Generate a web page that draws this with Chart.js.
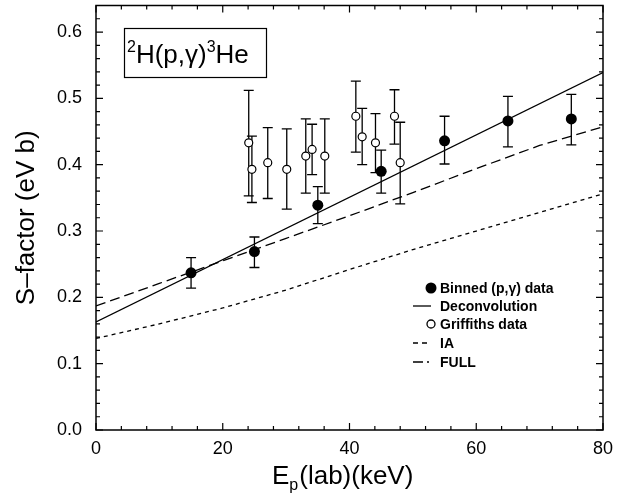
<!DOCTYPE html>
<html>
<head>
<meta charset="utf-8">
<title>2H(p,gamma)3He S-factor</title>
<script src="https://cdn.jsdelivr.net/npm/chart.js@4.4.1/dist/chart.umd.min.js"></script>
<style>
    html, body { margin: 0; padding: 0; background: #fff; }
    #wrap { width: 634px; height: 497px; }
</style>
</head>
<body>
<div id="wrap"><canvas id="sfactorChart" width="634" height="497"></canvas></div>
<script>
// Binned (p,gamma) data
const binnedE = [15, 25, 35, 45, 55, 65, 75];
const binnedS = [0.237, 0.269, 0.339, 0.390, 0.436, 0.466, 0.469];
const binnedHi = [0.260, 0.291, 0.367, 0.422, 0.473, 0.503, 0.506];
const binnedLo = [0.214, 0.245, 0.311, 0.357, 0.401, 0.427, 0.430];

// Griffiths data
const griffE = [24.1, 24.6, 27.1, 30.1, 33.1, 34.1, 36.1, 41.0, 42.0, 44.1, 47.1, 48.0];
const griffS = [0.433, 0.393, 0.403, 0.393, 0.413, 0.423, 0.413, 0.473, 0.442, 0.433, 0.473, 0.403];
const griffHi = [0.512, 0.443, 0.456, 0.454, 0.469, 0.461, 0.469, 0.526, 0.485, 0.477, 0.513, 0.464];
const griffLo = [0.353, 0.343, 0.349, 0.333, 0.357, 0.385, 0.357, 0.419, 0.400, 0.388, 0.431, 0.341];

// Deconvolution fit (straight line)
const deconvE = [0, 80];
const deconvS = [0.163, 0.539];

// Theory curves
const theoryE = [0, 10, 20, 30, 40, 50, 60, 70, 80];
const iaS = [0.138, 0.160, 0.184, 0.211, 0.242, 0.272, 0.300, 0.328, 0.356];
const fullS = [0.187, 0.221, 0.255, 0.289, 0.323, 0.358, 0.394, 0.429, 0.457];

// Axis ticks
const xTickLabels = [0, 20, 40, 60, 80];
const yTickLabels = [0.0, 0.1, 0.2, 0.3, 0.4, 0.5, 0.6];

const FONT = "'Liberation Sans', Arial, Helvetica, sans-serif";
const toPoints = (xs, ys) => xs.map((v, i) => ({ x: v, y: ys[i] }));

// Error bars, drawn under the markers
const errorBarPlugin = {
    id: 'errorBars',
    beforeDatasetsDraw(chart) {
        const { ctx, scales: { x, y } } = chart;
        const sets = [[binnedE, binnedLo, binnedHi], [griffE, griffLo, griffHi]];
        ctx.save();
        ctx.strokeStyle = '#000';
        ctx.lineWidth = 1.3;
        sets.forEach(([es, lo, hi]) => {
            es.forEach((e, i) => {
                const px = x.getPixelForValue(e);
                const top = y.getPixelForValue(hi[i]);
                const bot = y.getPixelForValue(lo[i]);
                ctx.beginPath();
                ctx.moveTo(px, top); ctx.lineTo(px, bot);
                ctx.moveTo(px - 5, top); ctx.lineTo(px + 5, top);
                ctx.moveTo(px - 5, bot); ctx.lineTo(px + 5, bot);
                ctx.stroke();
            });
        });
        ctx.restore();
    }
};

// Frame, inward ticks, label box, legend and x title
const decorPlugin = {
    id: 'decor',
    afterDraw(chart) {
        const { ctx, chartArea: a, scales: { x, y } } = chart;
        ctx.save();
        ctx.strokeStyle = '#000';
        ctx.fillStyle = '#000';
        ctx.lineWidth = 1.5;
        ctx.strokeRect(a.left, a.top, a.right - a.left, a.bottom - a.top);

        // y ticks every 0.02, major every 0.1
        ctx.lineWidth = 1.2;
        ctx.beginPath();
        for (let i = 0; i <= 32; i++) {
            const py = y.getPixelForValue(i * 0.02);
            const len = i % 5 === 0 ? 7 : 4;
            ctx.moveTo(a.left, py); ctx.lineTo(a.left + len, py);
            ctx.moveTo(a.right, py); ctx.lineTo(a.right - len, py);
        }
        // x ticks every 4, major every 20
        for (let i = 0; i <= 20; i++) {
            const px = x.getPixelForValue(i * 4);
            const len = i % 5 === 0 ? 7 : 4;
            ctx.moveTo(px, a.bottom); ctx.lineTo(px, a.bottom - len);
            ctx.moveTo(px, a.top); ctx.lineTo(px, a.top + len);
        }
        ctx.stroke();

        // reaction label box
        ctx.lineWidth = 1.2;
        ctx.strokeRect(124.5, 28.5, 142, 49);
        ctx.textBaseline = 'alphabetic';
        ctx.textAlign = 'left';
        let tx = 127;
        const parts = [['2', 16, -11], ['H(p,\u03b3)', 26, 0], ['3', 16, -11], ['He', 26, 0]];
        parts.forEach(([t, size, dy]) => {
            ctx.font = size + 'px ' + FONT;
            ctx.fillText(t, tx, 63 + dy);
            tx += ctx.measureText(t).width;
        });

        // legend
        const lx = 431, textX = 440;
        const rows = [288, 306, 324, 343, 362];
        const labels = ['Binned (p,\u03b3) data', 'Deconvolution', 'Griffiths data', 'IA', 'FULL'];
        ctx.font = 'bold 14px ' + FONT;
        ctx.textBaseline = 'middle';
        labels.forEach((t, i) => ctx.fillText(t, textX, rows[i] + 1));

        ctx.beginPath();
        ctx.arc(lx, rows[0], 5.5, 0, Math.PI * 2);
        ctx.fill();

        ctx.lineWidth = 1.3;
        ctx.beginPath();
        ctx.moveTo(413, rows[1]); ctx.lineTo(431, rows[1]);
        ctx.stroke();

        ctx.beginPath();
        ctx.arc(lx, rows[2], 4, 0, Math.PI * 2);
        ctx.stroke();

        ctx.setLineDash([5, 4]);
        ctx.beginPath();
        ctx.moveTo(413, rows[3]); ctx.lineTo(431, rows[3]);
        ctx.stroke();

        ctx.setLineDash([10, 4, 2, 4]);
        ctx.beginPath();
        ctx.moveTo(413, rows[4]); ctx.lineTo(431, rows[4]);
        ctx.stroke();
        ctx.setLineDash([]);

        // x title with subscript
        ctx.textBaseline = 'alphabetic';
        let xx = 272;
        const xparts = [['E', 26, 0], ['p', 16, 6], ['(lab)(keV)', 26, 0]];
        xparts.forEach(([t, size, dy]) => {
            ctx.font = size + 'px ' + FONT;
            ctx.fillText(t, xx, 484 + dy);
            xx += ctx.measureText(t).width + (t === 'p' ? 1 : 0);
        });
        ctx.restore();
    }
};

new Chart(document.getElementById('sfactorChart'), {
    type: 'scatter',
    data: {
        datasets: [{
            label: 'IA',
            data: toPoints(theoryE, iaS),
            showLine: true,
            borderColor: '#000',
            borderWidth: 1.3,
            borderDash: [4, 4],
            pointRadius: 0
        }, {
            label: 'FULL',
            data: toPoints(theoryE, fullS),
            showLine: true,
            borderColor: '#000',
            borderWidth: 1.3,
            borderDash: [10, 5],
            pointRadius: 0
        }, {
            label: 'Deconvolution',
            data: toPoints(deconvE, deconvS),
            showLine: true,
            borderColor: '#000',
            borderWidth: 1.3,
            pointRadius: 0
        }, {
            label: 'Griffiths data',
            data: toPoints(griffE, griffS),
            pointRadius: 4,
            pointBorderWidth: 1.2,
            pointBorderColor: '#000',
            pointBackgroundColor: '#fff'
        }, {
            label: 'Binned (p,\u03b3) data',
            data: toPoints(binnedE, binnedS),
            pointRadius: 5.5,
            pointBorderWidth: 0,
            pointBackgroundColor: '#000'
        }]
    },
    options: {
        responsive: false,
        animation: false,
        layout: { padding: { top: 5, right: 31, left: 0, bottom: 0 } },
        plugins: {
            legend: { display: false },
            tooltip: { enabled: false }
        },
        scales: {
            x: {
                type: 'linear',
                min: 0,
                max: 80,
                afterBuildTicks: scale => {
                    scale.ticks = xTickLabels.map(v => ({ value: v }));
                },
                afterFit: scale => {
                    scale.height = 67;
                    scale.paddingLeft = 0;
                    scale.paddingRight = 0;
                },
                grid: { display: false, drawTicks: false },
                border: { display: false },
                ticks: {
                    padding: 8,
                    color: '#000',
                    font: { family: FONT, size: 18 },
                    maxRotation: 0
                }
            },
            y: {
                type: 'linear',
                min: 0,
                max: 0.64,
                afterBuildTicks: scale => {
                    scale.ticks = yTickLabels.map(v => ({ value: v }));
                },
                afterFit: scale => {
                    scale.width = 96;
                    scale.paddingTop = 0;
                    scale.paddingBottom = 0;
                },
                grid: { display: false, drawTicks: false },
                border: { display: false },
                ticks: {
                    padding: 14,
                    color: '#000',
                    font: { family: FONT, size: 18 },
                    callback: v => v.toFixed(1)
                },
                title: {
                    display: true,
                    text: 'S\u2013factor (eV b)',
                    color: '#000',
                    font: { family: FONT, size: 26 },
                    padding: { top: 11, bottom: 0 }
                }
            }
        }
    },
    plugins: [errorBarPlugin, decorPlugin]
});
</script>
</body>
</html>
